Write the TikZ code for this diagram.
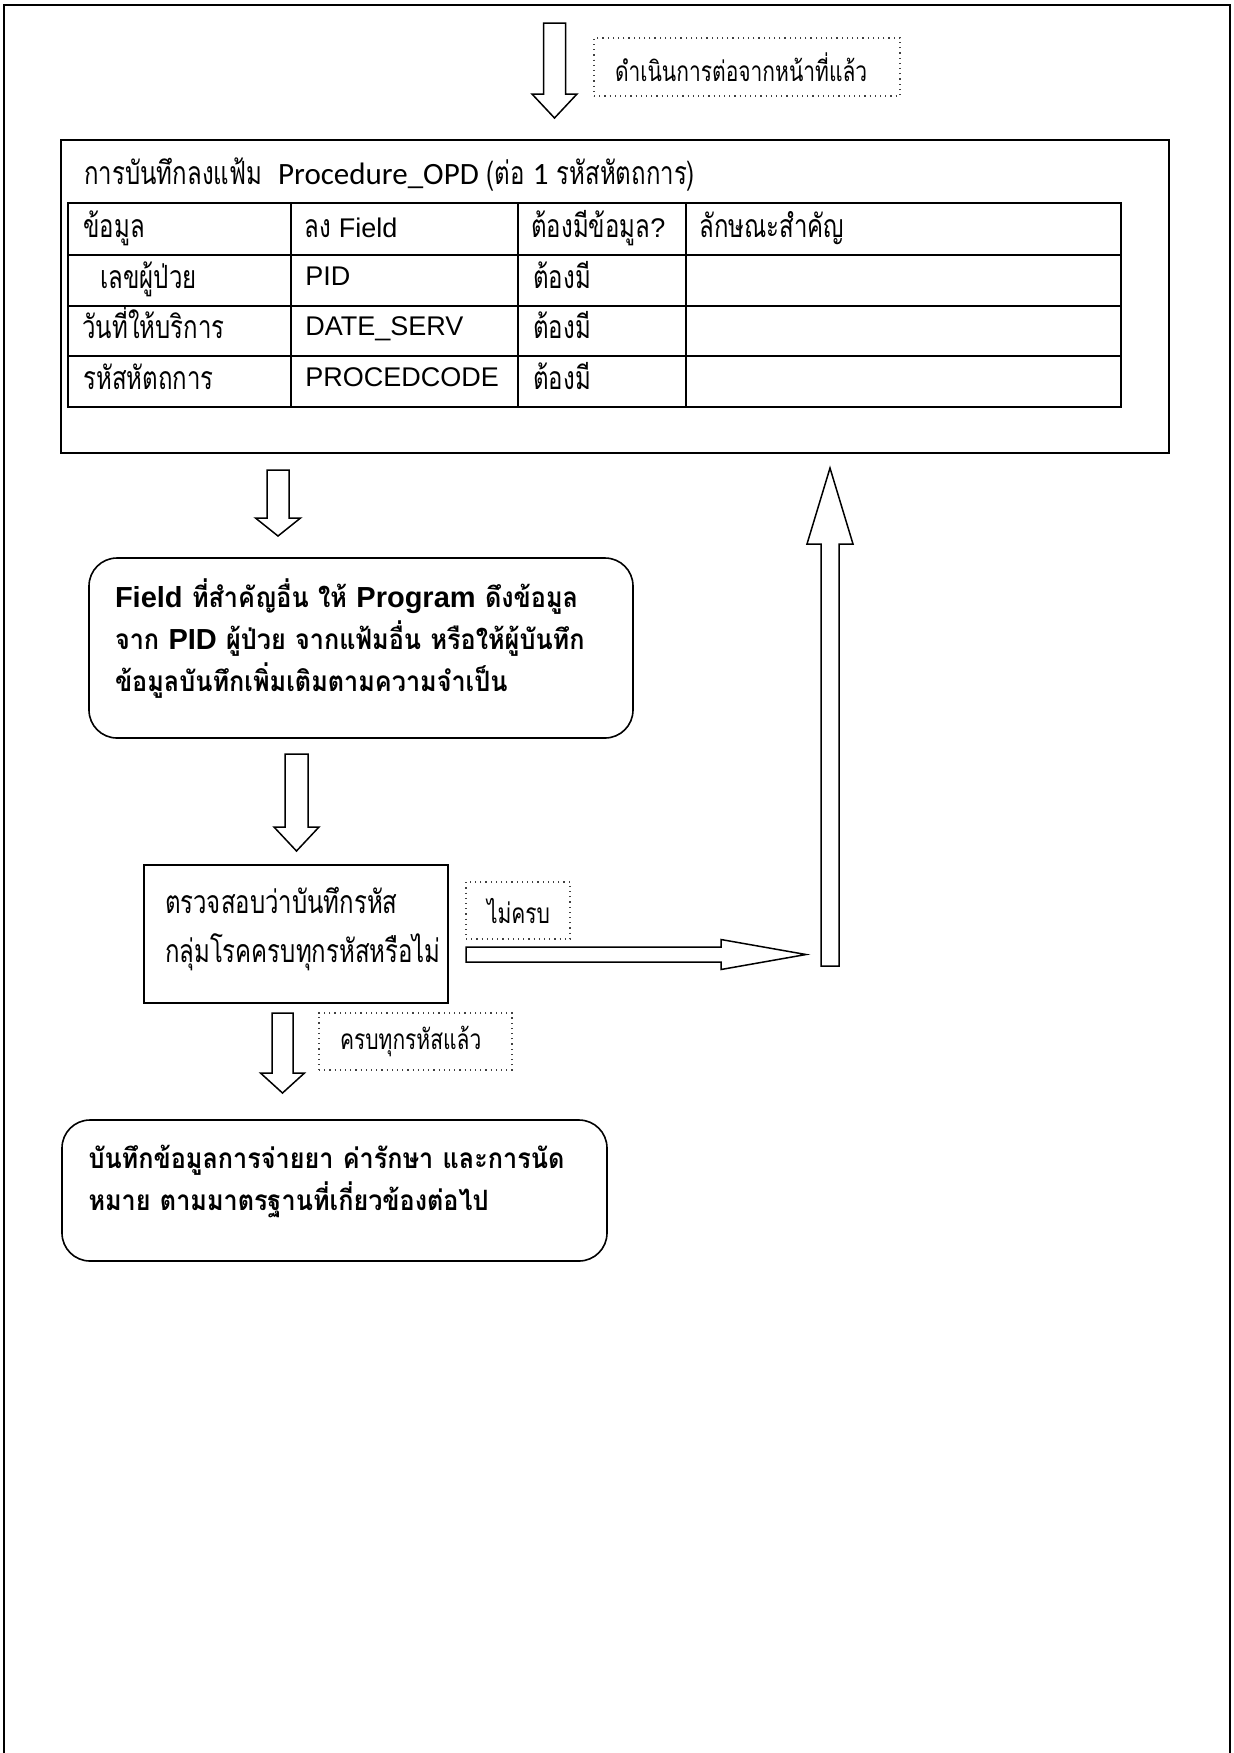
\documentclass[tikz,border=0pt]{standalone}
\usepackage{fontspec}
\setmainfont{Liberation Sans}
\newfontfamily\arial{Liberation Sans}
\newfontfamily\calib{Carlito}
\newfontfamily\thai[Script=Thai,FakeStretch=0.75]{Loma}
\newfontfamily\thaib[Script=Thai,FakeStretch=0.9,WordSpace=0.8]{Loma}
\usetikzlibrary{positioning,calc}
\tikzset{
  fc-frame/.style={draw=black, line width=0.8pt},
  fc-box/.style={draw=black, line width=0.8pt, fill=white, inner sep=0pt},
  fc-round/.style={fc-box, rounded corners=14pt},
  fc-bold/.style={align=left, inner sep=0pt,
    font=\thaib\bfseries\fontsize{14}{21}\selectfont},
  fc-plain/.style={align=left, inner sep=0pt,
    font=\thai\fontsize{16}{24.5}\selectfont},
  fc-tag/.style={draw=black!75, dotted, line width=0.6pt, inner ysep=0pt,
    inner xsep=10.5pt, align=left, font=\thai\fontsize{14}{16}\selectfont},
  fc-grid/.style={draw=black, line width=1pt},
  fc-th/.style={anchor=base west, inner sep=0pt,
    font=\thai\fontsize{16}{18}\selectfont},
  fc-en/.style={anchor=base west, inner sep=0pt,
    font=\arial\fontsize{13.5}{16}\selectfont},
  fc-arrow/.style={draw=black, line width=0.75pt, fill=white, line join=miter},
  pics/blockarrow/.style n args={4}{code={
    \draw[fc-arrow] (0,-#2/2) -- (#1-#4,-#2/2) -- (#1-#4,-#3/2) -- (#1,0)
      -- (#1-#4,#3/2) -- (#1-#4,#2/2) -- (0,#2/2) -- cycle;
  }}
}
\newcommand{\en}[1]{{\arial\fontsize{14.5}{21}\selectfont #1}}
\begin{document}
\begin{tikzpicture}[x=0.5pt, y=-0.5pt]
\useasboundingbox (0,0) rectangle (1234,1753);
\draw[fc-frame] (4,1753) -- (4,5) -- (1230,5) -- (1230,1753);

% continued from previous page
\coordinate (a1) at (554.5,23);
\pic[rotate=-90] at (a1) {blockarrow={95}{22}{45}{24}};
\node[fc-tag, minimum width=153pt, minimum height=29pt, text width=132pt]
  (prev) at (747,67) {ดำเนินการต่อจากหน้าที่แล้ว};

% Procedure_OPD record
\node[fc-box, minimum width=554pt, minimum height=156.5pt] (main) at (615,296.5) {};
\node[fc-th] (title) at (84,184)
  {การบันทึกลงแฟ้ม\ \ {\calib\fontsize{15.5}{18}\selectfont Procedure\_OPD}
   (ต่อ {\calib\fontsize{15.5}{18}\selectfont 1} รหัสหัตถการ)};
\node[fc-grid, minimum width=526.5pt, minimum height=102pt] (tbl) at (594.5,305) {};
\foreach \x in {291,518,686} \draw[fc-grid] (\x,203) -- (\x,407);
\foreach \y in {255,306,356} \draw[fc-grid] (68,\y) -- (1121,\y);

\node[fc-th] (h1) at (83,237) {ข้อมูล};
\node[fc-th] (h2) at (304,237) {ลง {\arial\fontsize{13.5}{16}\selectfont Field}};
\node[fc-th] (h3) at (531,237) {ต้องมีข้อมูล{\arial\fontsize{13.5}{16}\selectfont ?}};
\node[fc-th] (h4) at (699,237) {ลักษณะสำคัญ};

\node[fc-th] (r1a) at (100,288) {เลขผู้ป่วย};
\node[fc-en] (r1b) at (305,285) {PID};
\node[fc-th] (r1c) at (533,288) {ต้องมี};
\node[fc-th] (r2a) at (82,338) {วันที่ให้บริการ};
\node[fc-en] (r2b) at (305,335) {DATE\_SERV};
\node[fc-th] (r2c) at (533,338) {ต้องมี};
\node[fc-th] (r3a) at (83,389) {รหัสหัตถการ};
\node[fc-en] (r3b) at (305,386) {PROCEDCODE};
\node[fc-th] (r3c) at (533,389) {ต้องมี};

% flow
\coordinate (a2) at (278,470);
\pic[rotate=-90] at (a2) {blockarrow={66}{22}{45}{18}};
\node[fc-round, minimum width=272pt, minimum height=90pt] (pull) at (361,648) {};
\node[fc-bold, text width=246pt, yshift=4.5pt] (pulltxt) at (pull)
  {\en{Field} ที่สำคัญอื่น ให้ \en{Program} ดึงข้อมูล\\
   จาก \en{PID} ผู้ป่วย จากแฟ้มอื่น หรือให้ผู้บันทึก\\
   ข้อมูลบันทึกเพิ่มเติมตามความจำเป็น};

\coordinate (a3) at (296.5,754);
\pic[rotate=-90] at (a3) {blockarrow={97}{23}{45}{24}};
\node[fc-box, minimum width=152pt, minimum height=69pt] (check) at (296,934) {};
\node[fc-plain, text width=131pt, yshift=2.5pt] (checktxt) at (check)
  {ตรวจสอบว่าบันทึกรหัส\\ กลุ่มโรคครบทุกรหัสหรือไม่};

\node[fc-tag, minimum width=52pt, minimum height=28.5pt, text width=31pt]
  (notall) at (518,910.5) {ไม่ครบ};
\coordinate (a5) at (466,954.5);
\pic at (a5) {blockarrow={340}{15}{30}{85}};
\coordinate (a6) at (830,966);
\pic[rotate=90] at (a6) {blockarrow={498}{18}{46}{76}};

\coordinate (a4) at (282.5,1013);
\pic[rotate=-90] at (a4) {blockarrow={80}{21}{44}{20}};
\node[fc-tag, minimum width=96.5pt, minimum height=28.5pt, text width=75.5pt]
  (done) at (415.5,1041.5) {ครบทุกรหัสแล้ว};

\node[fc-round, minimum width=272.5pt, minimum height=70.5pt] (next) at (334.5,1190.5) {};
\node[fc-bold, text width=246pt, yshift=4.5pt] (nexttxt) at (next)
  {บันทึกข้อมูลการจ่ายยา ค่ารักษา และการนัด\\
   หมาย ตามมาตรฐานที่เกี่ยวข้องต่อไป};
\end{tikzpicture}
\end{document}
